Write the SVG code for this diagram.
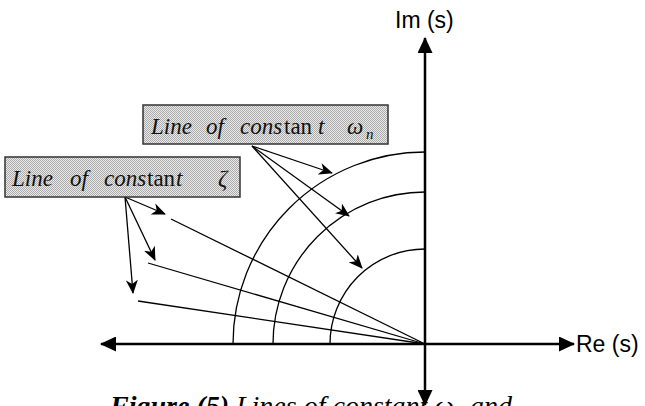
<svg xmlns="http://www.w3.org/2000/svg" width="645" height="406" viewBox="0 0 645 406">
<style>
.axis{stroke:#000;stroke-width:2.5;fill:none}
.thin{stroke:#000;stroke-width:1.3;fill:none}
.ptr{stroke:#000;stroke-width:1.3;fill:none;marker-end:url(#stealth)}
.lbl{font-family:"Liberation Serif",serif;font-size:23px;font-style:italic;fill:#111}
.up{font-style:normal}
.ax{font-family:"Liberation Sans",Arial,sans-serif;font-size:23px;fill:#000}
.box{fill:url(#dots);stroke:#333;stroke-width:1.5}
.cap{font-family:"Liberation Serif",serif;font-size:28px;font-style:italic;fill:#000}
</style>
<defs>
<pattern id="dots" width="2" height="2" patternUnits="userSpaceOnUse">
<rect width="2" height="2" fill="#eaeaea"/>
<rect width="1" height="1" fill="#aaaaaa"/>
<rect x="1" y="1" width="1" height="1" fill="#aaaaaa"/>
</pattern>
<marker id="stealth" markerUnits="userSpaceOnUse" markerWidth="14" markerHeight="12" viewBox="0 0 14 12" refX="13" refY="6" orient="auto">
<path d="M0,0 L14,6 L0,12 L4,6 Z" fill="#000"/>
</marker>
<marker id="tri" markerUnits="userSpaceOnUse" markerWidth="16" markerHeight="15" viewBox="0 0 16 15" refX="15" refY="7.5" orient="auto">
<path d="M0,0 L16,7.5 L0,15 Z" fill="#000"/>
</marker>
</defs>

<g id="connectors">
<g id="axes">
<line class="axis" x1="425" y1="344" x2="425" y2="38" marker-end="url(#tri)"/>
<line class="axis" x1="425" y1="344" x2="425" y2="405" marker-end="url(#tri)"/>
<line class="axis" x1="425" y1="344" x2="574" y2="344" marker-end="url(#tri)"/>
<line class="axis" x1="425" y1="344" x2="101" y2="344" marker-end="url(#tri)"/>
</g>
<g id="arcs">
<path class="thin" d="M233,344 A192,192 0 0 1 425,152"/>
<path class="thin" d="M273,344 A152,152 0 0 1 425,192"/>
<path class="thin" d="M330,344 A95,95 0 0 1 425,249"/>
</g>
<g id="radials">
<line class="thin" x1="425" y1="344" x2="171" y2="219"/>
<line class="thin" x1="425" y1="344" x2="148" y2="263"/>
<line class="thin" x1="425" y1="344" x2="138" y2="301"/>
</g>
<g id="pointers">
<line class="ptr" x1="252" y1="146" x2="332" y2="173"/>
<line class="ptr" x1="252" y1="146" x2="349" y2="216"/>
<line class="ptr" x1="252" y1="146" x2="362" y2="268"/>
<line class="ptr" x1="125" y1="197" x2="165" y2="214"/>
<line class="ptr" x1="125" y1="197" x2="155" y2="260"/>
<line class="ptr" x1="125" y1="197" x2="133" y2="293"/>
</g>
</g>

<g id="node-omega">
<rect class="box" x="143" y="105" width="245" height="39"/>
<text class="lbl" y="134"><tspan x="151">Line</tspan><tspan x="206">of</tspan><tspan x="240">cons</tspan><tspan class="up" x="284">tan</tspan><tspan x="318">t</tspan><tspan x="347">ω</tspan><tspan x="366" dy="5" font-size="15">n</tspan></text>
</g>

<g id="node-zeta">
<rect class="box" x="5" y="157" width="235" height="40"/>
<text class="lbl" y="186"><tspan x="12">Line</tspan><tspan x="70">of</tspan><tspan x="104">cons</tspan><tspan class="up" x="147">tan</tspan><tspan x="176">t</tspan><tspan x="218">ζ</tspan></text>
</g>

<g id="node-im">
<text class="ax" x="395" y="28">Im (s)</text>
</g>
<g id="node-re">
<text class="ax" x="576" y="352">Re (s)</text>
</g>

<g id="caption">
<text class="cap" x="110" y="415"><tspan font-weight="bold">Figure (5)</tspan> Lines of constant ω<tspan font-size="18" dy="4">n</tspan><tspan dy="-4"> and</tspan></text>
</g>
</svg>
